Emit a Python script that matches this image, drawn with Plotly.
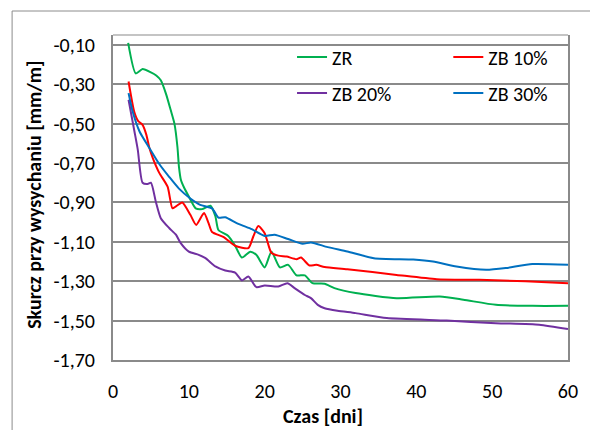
import plotly.graph_objects as go

# ---- data ----
zr_days = [2, 3.0, 3.9, 5.0, 5.7, 6.3, 7.0, 7.6, 8.1, 8.5, 8.7, 8.95, 9.4, 10.0, 10.9, 11.75, 12.85, 13.5, 13.9, 15.2, 16.1, 17.0, 18.1, 18.9, 20.0, 20.9, 22.0, 23.1, 24.2, 25.3, 26.3, 27.9, 29.2, 32.0, 37.4, 43.1, 46.2, 50.5, 55.3, 60]
zr_vals = [-0.09, -0.245, -0.223, -0.24, -0.256, -0.28, -0.35, -0.43, -0.50, -0.62, -0.72, -0.785, -0.827, -0.87, -0.93, -0.934, -0.917, -0.97, -1.04, -1.07, -1.12, -1.18, -1.15, -1.166, -1.23, -1.15, -1.23, -1.217, -1.27, -1.27, -1.31, -1.313, -1.335, -1.36, -1.386, -1.378, -1.394, -1.42, -1.425, -1.425]

zb10_days = [2.05, 2.8, 3.3, 3.9, 4.4, 4.8, 5.3, 6.1, 7.2, 7.84, 8.3, 9.14, 10.2, 10.97, 12.0, 12.6, 13.06, 14.6, 16.1, 17.85, 18.5, 19.16, 20.0, 20.9, 21.8, 22.9, 24.2, 24.8, 25.9, 26.8, 27.9, 30.9, 37.4, 42.7, 48.3, 54.4, 60]
zb10_vals = [-0.286, -0.44, -0.486, -0.506, -0.557, -0.624, -0.68, -0.75, -0.82, -0.93, -0.92, -0.90, -0.963, -1.014, -0.954, -1.005, -1.05, -1.076, -1.12, -1.132, -1.073, -1.02, -1.056, -1.157, -1.17, -1.175, -1.188, -1.18, -1.22, -1.217, -1.228, -1.239, -1.268, -1.29, -1.293, -1.30, -1.31]

zb20_days = [2.05, 2.83, 3.27, 3.9, 4.57, 5.0, 5.67, 6.3, 7.4, 8.3, 8.93, 10.0, 11.3, 12.2, 13.5, 14.8, 16.1, 17.0, 17.85, 18.9, 20.0, 21.8, 23.0, 23.95, 25.3, 26.1, 27.0, 27.9, 29.6, 32.0, 36.1, 44.0, 50.5, 56.2, 60]
zb20_vals = [-0.379, -0.54, -0.633, -0.80, -0.806, -0.80, -0.90, -0.98, -1.03, -1.064, -1.107, -1.15, -1.166, -1.183, -1.225, -1.246, -1.256, -1.296, -1.276, -1.33, -1.322, -1.327, -1.31, -1.335, -1.37, -1.386, -1.42, -1.437, -1.45, -1.462, -1.487, -1.50, -1.513, -1.521, -1.543]

zb30_days = [2.05, 2.6, 3.5, 4.8, 6.1, 7.4, 8.7, 10.2, 11.5, 13.06, 13.9, 14.8, 16.3, 17.2, 18.3, 20.0, 21.3, 23.1, 25.0, 26.1, 28.3, 30.9, 34.4, 39.6, 42.2, 45.3, 49.2, 51.8, 55.3, 60]
zb30_vals = [-0.345, -0.44, -0.54, -0.624, -0.705, -0.77, -0.83, -0.88, -0.912, -0.93, -0.977, -0.975, -1.005, -1.019, -1.036, -1.07, -1.064, -1.086, -1.11, -1.103, -1.127, -1.149, -1.183, -1.19, -1.20, -1.225, -1.242, -1.233, -1.213, -1.217]

series_names = ["ZR", "ZB 10%", "ZB 20%", "ZB 30%"]
y_tick_vals = [-0.10, -0.30, -0.50, -0.70, -0.90, -1.10, -1.30, -1.50, -1.70]
y_tick_text = ["-0,10", "-0,30", "-0,50", "-0,70", "-0,90", "-1,10", "-1,30", "-1,50", "-1,70"]
x_tick_vals = [0, 10, 20, 30, 40, 50, 60]
x_title = "Czas [dni]"
y_title = "Skurcz przy wysychaniu [mm/m]"

FONT = "Calibri, Carlito, Open Sans, sans-serif"
FS = 20
colors = ["#00B050", "#FF0000", "#7030A0", "#0070C0"]
data = [(zr_days, zr_vals), (zb10_days, zb10_vals), (zb20_days, zb20_vals), (zb30_days, zb30_vals)]
legend_ids = ["legend", "legend2", "legend3", "legend4"]

fig = go.Figure()
for (xs, ys), name, c, lg in zip(data, series_names, colors, legend_ids):
    fig.add_trace(go.Scatter(x=xs, y=ys, mode="lines", name=name,
                             line=dict(color=c, width=2, shape="spline", smoothing=0.6),
                             legend=lg))

W, H = 590, 430
ml, mr, mt, mb = 113, 17, 35, 70
pw, ph = W - ml - mr, H - mt - mb

def px2x(px):
    return (px - ml) / pw

def py2y(py):
    return (H - mb - py) / ph

leg_common = dict(bgcolor="rgba(0,0,0,0)", borderwidth=0, font=dict(family=FONT, size=FS, color="#000"),
                  xanchor="left", yanchor="middle")
legpos = [(294, 57), (452, 57), (294, 93), (452, 93)]
layout_legs = {}
for lg, (lx, ly) in zip(legend_ids, legpos):
    layout_legs[lg] = dict(x=px2x(lx), y=py2y(ly), **leg_common)

fig.update_layout(
    width=W, height=H,
    margin=dict(l=ml, r=mr, t=mt, b=mb),
    paper_bgcolor="white", plot_bgcolor="white",
    font=dict(family=FONT, size=FS, color="#000"),
    showlegend=True,
    **layout_legs,
)
fig.update_xaxes(range=[0, 60], tickvals=x_tick_vals, showgrid=False, zeroline=False,
                 showline=True, linecolor="#8a8a8a", linewidth=2,
                 ticks="", ticklabelstandoff=12, tickfont=dict(family=FONT, size=FS))
fig.update_yaxes(range=[-1.70, -0.05], tickvals=y_tick_vals, ticktext=y_tick_text,
                 showgrid=True, gridcolor="#8a8a8a", gridwidth=2, zeroline=False,
                 showline=True, linecolor="#8a8a8a", linewidth=2, mirror=True,
                 ticks="", ticklabelstandoff=12, tickfont=dict(family=FONT, size=FS))

# plot area top border (light)
fig.add_shape(type="line", xref="paper", yref="paper", x0=0, x1=1, y0=1, y1=1,
              line=dict(color="#c4c4c4", width=2), layer="below")
# outer chart border
fig.add_shape(type="rect", xref="paper", yref="paper",
              x0=px2x(11), x1=px2x(620), y0=py2y(460), y1=py2y(11),
              line=dict(color="#8c8c8c", width=1), layer="below")

fig.add_annotation(text="<b>" + x_title + "</b>", xref="paper", yref="paper",
                   x=px2x(325), y=py2y(416), showarrow=False,
                   font=dict(family=FONT, size=FS, color="#000"), xanchor="center", yanchor="middle")
fig.add_annotation(text="<b>" + y_title + "</b>", xref="paper", yref="paper",
                   x=px2x(33), y=py2y(195), showarrow=False, textangle=-90,
                   font=dict(family=FONT, size=FS, color="#000"), xanchor="center", yanchor="middle")

fig.write_html("out.html")
